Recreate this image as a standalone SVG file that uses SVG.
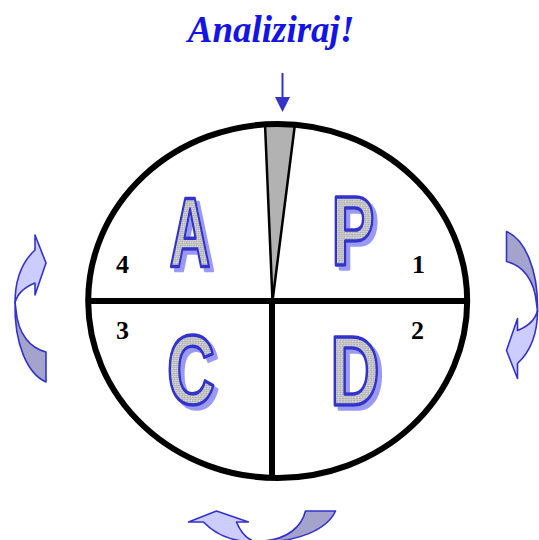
<svg xmlns="http://www.w3.org/2000/svg" xmlns:xlink="http://www.w3.org/1999/xlink" width="539" height="540" viewBox="0 0 539 540">
  <style>
    .title { font-family: "Liberation Serif", "Times New Roman", serif; font-weight: bold; font-style: italic; font-size: 37px; fill: #1414e6; }
    .num { font-family: "Liberation Serif", "Times New Roman", serif; font-weight: bold; font-size: 26px; fill: #000; }
    .big { font-family: "Liberation Sans", Arial, sans-serif; font-weight: bold; font-size: 98px; text-anchor: middle; }
    .face { fill: url(#speckle); stroke: #3030cc; stroke-width: 3.5; stroke-linejoin: round; paint-order: normal; }
    .light { fill: #ccccff; stroke: #3333cc; stroke-width: 1.6; stroke-linejoin: round; }
    .dark { fill: #a3a3cc; stroke: #3333cc; stroke-width: 1.6; stroke-linejoin: round; }
    .frame { fill: none; stroke: #000; stroke-width: 6; }
  </style>
  <defs>
    <pattern id="speckle" width="4" height="4" patternUnits="userSpaceOnUse">
      <rect width="4" height="4" fill="#c2c2c2"/>
      <rect x="0" y="0" width="1" height="1" fill="#eeeeee"/>
      <rect x="2" y="1" width="1" height="1" fill="#9a9a9a"/>
      <rect x="1" y="2" width="1" height="1" fill="#e4e4e4"/>
      <rect x="3" y="3" width="1" height="1" fill="#a8a8a8"/>
    </pattern>
    <filter id="shadow" x="-20%" y="-20%" width="150%" height="150%">
      <feOffset in="SourceAlpha" dx="4" dy="4" result="off"/>
      <feFlood flood-color="#9a9af5"/>
      <feComposite in2="off" operator="in" result="sh"/>
      <feMerge>
        <feMergeNode in="sh"/>
        <feMergeNode in="SourceGraphic"/>
      </feMerge>
    </filter>
    <g id="curvedArrow">
      <path class="dark" d="M15,302 C14,345 28,374 46,382 L46,352 C30,348 18,334 16,310 Z"/>
      <path class="light" d="M35,250 C22,262 15,280 15,303 C17,294 25,287 35,283 L35,295 L46,263 L35,235 Z"/>
    </g>
  </defs>

  <g id="title">
    <text class="title" x="271" y="42" text-anchor="middle">Analiziraj!</text>
  </g>

  <g id="cycle-arrows">
    <use id="arrow-left" xlink:href="#curvedArrow"/>
    <use id="arrow-right" xlink:href="#curvedArrow" transform="matrix(-1,0,0,-1,552.5,613.5)"/>
    <use id="arrow-bottom" xlink:href="#curvedArrow" transform="matrix(0,-1,1,0,-46.5,557)"/>
  </g>

  <g id="connectors">
    <line x1="282.5" y1="73" x2="282.5" y2="98" stroke="#3333cc" stroke-width="2"/>
    <path d="M275,97 L290,97 L282.5,112 Z" fill="#3333cc"/>
  </g>

  <g id="wheel">
    <polygon points="265,124 295,124 272.5,301" fill="#b2b2b2" stroke="#000" stroke-width="2.5" stroke-linejoin="round"/>
    <ellipse class="frame" cx="277.7" cy="301" rx="189.5" ry="177"/>
    <line class="frame" x1="88" y1="301" x2="467" y2="301"/>
    <line class="frame" x1="272" y1="301" x2="272" y2="478"/>
  </g>

  <g id="quadrant-A">
    <g filter="url(#shadow)"><g transform="translate(190,266) scale(0.58,1)"><text class="big face">A</text></g></g>
    <text class="num" x="116" y="273">4</text>
  </g>
  <g id="quadrant-P">
    <g filter="url(#shadow)"><g transform="translate(353,265) scale(0.66,1)"><text class="big face">P</text></g></g>
    <text class="num" x="412" y="273">1</text>
  </g>
  <g id="quadrant-C">
    <g filter="url(#shadow)"><g transform="translate(191,404) scale(0.68,1)"><text class="big face">C</text></g></g>
    <text class="num" x="116" y="339">3</text>
  </g>
  <g id="quadrant-D">
    <g filter="url(#shadow)"><g transform="translate(355,405) scale(0.7,1)"><text class="big face">D</text></g></g>
    <text class="num" x="411" y="339">2</text>
  </g>
</svg>
